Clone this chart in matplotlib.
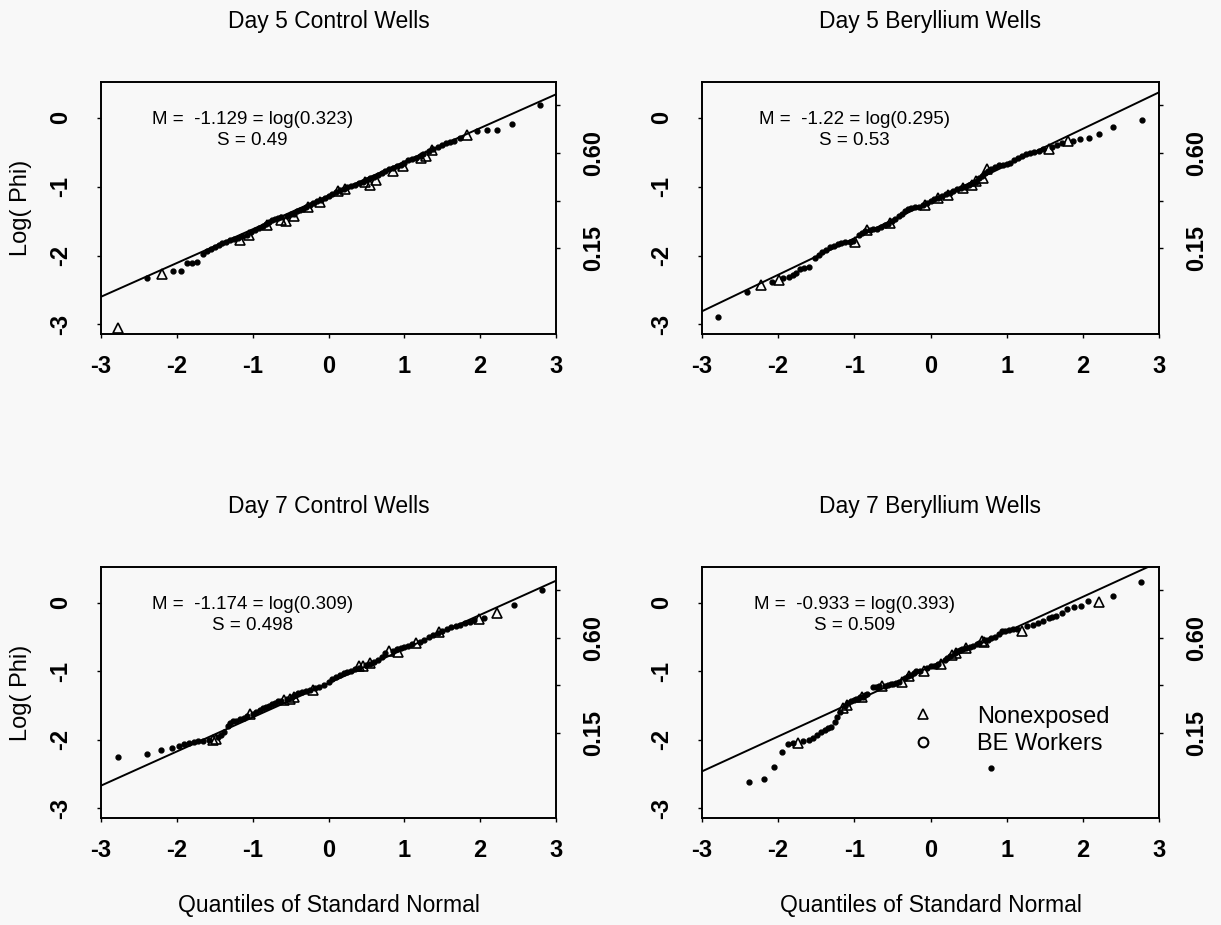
import math
import matplotlib
matplotlib.use("Agg")
import matplotlib.pyplot as plt
from matplotlib.lines import Line2D

plt.rcParams['font.family'] = ['Liberation Sans', 'DejaVu Sans']
plt.rcParams['axes.unicode_minus'] = False

# panel titles and fitted lognormal parameters (intercept M, slope S)
titles = ["Day 5 Control Wells", "Day 5 Beryllium Wells",
          "Day 7 Control Wells", "Day 7 Beryllium Wells"]
fit_m = [-1.129, -1.22, -1.174, -0.933]
fit_s = [0.49, 0.53, 0.498, 0.509]
fit_phi = [0.323, 0.295, 0.309, 0.393]

# right hand axis: Phi values at log positions
phi_ticks = [1.2, 0.6, 0.3, 0.15]
phi_labels = ["", "0.60", "", "0.15"]
x_ticks = [-3, -2, -1, 0, 1, 2, 3]
y_ticks = [0, -1, -2, -3]

# Day 5 control wells
d5c_dot_x = [-2.40, -2.05, -1.95, -1.87, -1.80, -1.73, -1.66, -1.60, -1.55, -1.50, -1.45, -1.40,
             -1.35, -1.30, -1.25, -1.20, -1.14, -1.08, -1.02, -0.97, -0.92, -0.87, -0.83, -0.78,
             -0.74, -0.70, -0.66, -0.62, -0.55, -0.50, -0.46, -0.42, -0.38, -0.34, -0.30, -0.25,
             -0.20, -0.15, -0.10, -0.05, 0.00, 0.05, 0.10, 0.15, 0.20, 0.25, 0.30, 0.35, 0.40,
             0.45, 0.50, 0.55, 0.60, 0.65, 0.70, 0.75, 0.80, 0.85, 0.90, 0.95, 1.00, 1.05, 1.10,
             1.15, 1.20, 1.25, 1.32, 1.38, 1.44, 1.50, 1.55, 1.60, 1.66, 1.73, 1.96, 2.09, 2.22,
             2.42, 2.79]
d5c_dot_y = [-2.33, -2.23, -2.22, -2.11, -2.11, -2.10, -1.98, -1.94, -1.90, -1.87, -1.85, -1.82,
             -1.80, -1.78, -1.76, -1.74, -1.72, -1.70, -1.66, -1.63, -1.60, -1.57, -1.54, -1.51,
             -1.49, -1.47, -1.45, -1.44, -1.42, -1.40, -1.39, -1.36, -1.34, -1.32, -1.30, -1.27,
             -1.24, -1.21, -1.19, -1.16, -1.13, -1.10, -1.08, -1.05, -1.03, -1.01, -0.99, -0.97,
             -0.94, -0.93, -0.91, -0.88, -0.86, -0.83, -0.80, -0.77, -0.75, -0.73, -0.70, -0.68,
             -0.65, -0.62, -0.60, -0.58, -0.55, -0.52, -0.48, -0.45, -0.42, -0.39, -0.37, -0.35,
             -0.33, -0.30, -0.19, -0.17, -0.17, -0.09, 0.19]
d5c_tri_x = [-2.77, -2.20, -1.17, -1.05, -0.81, -0.62, -0.56, -0.45, -0.27, -0.11, 0.13, 0.22,
             0.48, 0.55, 0.62, 0.85, 0.98, 1.22, 1.29, 1.36, 1.82]
d5c_tri_y = [-3.06, -2.27, -1.78, -1.70, -1.56, -1.48, -1.50, -1.42, -1.30, -1.22, -1.07, -1.04,
             -0.93, -0.97, -0.90, -0.77, -0.70, -0.58, -0.55, -0.47, -0.25]

# Day 5 beryllium wells
d5b_dot_x = [-2.79, -2.41, -2.08, -1.93, -1.86, -1.81, -1.76, -1.71, -1.66, -1.60, -1.52, -1.47,
             -1.42, -1.37, -1.32, -1.27, -1.22, -1.17, -1.12, -1.06, -1.02, -0.94, -0.90, -0.86,
             -0.80, -0.75, -0.70, -0.65, -0.60, -0.56, -0.50, -0.46, -0.42, -0.38, -0.34, -0.30,
             -0.25, -0.20, -0.15, -0.10, -0.05, 0.00, 0.05, 0.10, 0.15, 0.20, 0.25, 0.30, 0.35,
             0.40, 0.45, 0.50, 0.55, 0.60, 0.64, 0.68, 0.72, 0.76, 0.80, 0.85, 0.90, 0.95, 1.00,
             1.05, 1.10, 1.15, 1.20, 1.25, 1.30, 1.36, 1.42, 1.48, 1.60, 1.66, 1.72, 1.87, 1.96,
             2.08, 2.21, 2.40, 2.78]
d5b_dot_y = [-2.90, -2.53, -2.38, -2.33, -2.31, -2.28, -2.25, -2.20, -2.18, -2.16, -2.03, -1.99,
             -1.95, -1.92, -1.88, -1.86, -1.84, -1.82, -1.81, -1.80, -1.79, -1.70, -1.67, -1.65,
             -1.63, -1.62, -1.61, -1.58, -1.56, -1.54, -1.50, -1.47, -1.43, -1.39, -1.36, -1.33,
             -1.31, -1.30, -1.29, -1.27, -1.24, -1.21, -1.18, -1.16, -1.13, -1.10, -1.09, -1.07,
             -1.04, -1.02, -1.00, -0.98, -0.95, -0.93, -0.88, -0.84, -0.80, -0.77, -0.75, -0.72,
             -0.69, -0.68, -0.67, -0.65, -0.62, -0.59, -0.56, -0.53, -0.51, -0.50, -0.48, -0.46,
             -0.42, -0.39, -0.37, -0.33, -0.31, -0.29, -0.24, -0.13, -0.03]
d5b_tri_x = [-2.22, -1.99, -0.99, -0.83, -0.53, -0.07, 0.10, 0.23, 0.43, 0.55, 0.60, 0.69, 0.74,
             1.55, 1.80]
d5b_tri_y = [-2.43, -2.35, -1.80, -1.63, -1.53, -1.26, -1.17, -1.12, -1.02, -0.98, -0.92, -0.88,
             -0.75, -0.45, -0.34]

# Day 7 control wells
d7c_dot_x = [-2.78, -2.39, -2.21, -2.07, -1.97, -1.90, -1.84, -1.78, -1.72, -1.65, -1.58, -1.46,
             -1.42, -1.38, -1.33, -1.30, -1.26, -1.22, -1.17, -1.12, -1.08, -1.00, -0.95, -0.90,
             -0.86, -0.82, -0.78, -0.74, -0.70, -0.66, -0.62, -0.55, -0.48, -0.44, -0.40, -0.35,
             -0.30, -0.25, -0.18, -0.12, -0.06, 0.00, 0.05, 0.10, 0.15, 0.20, 0.25, 0.30, 0.35,
             0.40, 0.50, 0.55, 0.60, 0.65, 0.70, 0.75, 0.85, 0.90, 0.95, 1.00, 1.05, 1.10, 1.20,
             1.26, 1.32, 1.38, 1.44, 1.50, 1.56, 1.62, 1.68, 1.74, 1.80, 1.86, 1.92, 2.05, 2.44,
             2.82]
d7c_dot_y = [-2.25, -2.20, -2.15, -2.12, -2.09, -2.06, -2.04, -2.03, -2.02, -2.01, -2.00, -1.96,
             -1.93, -1.89, -1.80, -1.76, -1.73, -1.72, -1.70, -1.68, -1.65, -1.62, -1.59, -1.56,
             -1.54, -1.52, -1.50, -1.48, -1.46, -1.44, -1.43, -1.41, -1.38, -1.35, -1.32, -1.30,
             -1.29, -1.28, -1.25, -1.23, -1.20, -1.15, -1.11, -1.08, -1.06, -1.03, -1.01, -0.99,
             -0.97, -0.95, -0.91, -0.89, -0.87, -0.84, -0.79, -0.74, -0.70, -0.68, -0.66, -0.64,
             -0.63, -0.61, -0.57, -0.54, -0.50, -0.47, -0.44, -0.41, -0.39, -0.36, -0.34, -0.32,
             -0.30, -0.28, -0.26, -0.22, -0.03, 0.19]
d7c_tri_x = [-1.52, -1.48, -1.04, -0.59, -0.51, -0.45, -0.21, 0.40, 0.45, 0.55, 0.80, 0.92, 1.16,
             1.46, 1.99, 2.22]
d7c_tri_y = [-2.00, -1.99, -1.62, -1.42, -1.40, -1.37, -1.27, -0.93, -0.93, -0.88, -0.71, -0.72,
             -0.59, -0.43, -0.24, -0.15]

# Day 7 beryllium wells
d7b_dot_x = [-2.38, -2.19, -2.06, -1.95, -1.87, -1.81, -1.67, -1.60, -1.54, -1.49, -1.44, -1.39,
             -1.34, -1.30, -1.26, -1.23, -1.19, -1.12, -1.08, -1.04, -1.01, -0.98, -0.95, -0.92,
             -0.89, -0.86, -0.84, -0.76, -0.71, -0.67, -0.60, -0.56, -0.52, -0.49, -0.45, -0.42,
             -0.33, -0.29, -0.26, -0.22, -0.19, -0.14, -0.04, 0.00, 0.04, 0.07, 0.10, 0.19, 0.22,
             0.26, 0.32, 0.35, 0.39, 0.42, 0.47, 0.52, 0.56, 0.61, 0.64, 0.72, 0.75, 0.80, 0.85,
             0.90, 0.94, 0.98, 1.03, 1.08, 1.14, 1.27, 1.34, 1.41, 1.48, 1.55, 1.60, 1.65, 1.72,
             1.79, 1.88, 1.97, 2.07, 2.40, 2.77, 0.80]
d7b_dot_y = [-2.62, -2.57, -2.40, -2.18, -2.06, -2.05, -2.02, -2.00, -1.97, -1.93, -1.89, -1.85,
             -1.83, -1.81, -1.74, -1.66, -1.60, -1.50, -1.46, -1.44, -1.42, -1.41, -1.40, -1.38,
             -1.37, -1.35, -1.33, -1.23, -1.23, -1.22, -1.21, -1.20, -1.19, -1.18, -1.17, -1.16,
             -1.10, -1.07, -1.05, -1.02, -1.00, -0.99, -0.96, -0.93, -0.92, -0.92, -0.90, -0.83,
             -0.81, -0.78, -0.73, -0.71, -0.69, -0.67, -0.66, -0.64, -0.63, -0.61, -0.59, -0.55,
             -0.54, -0.52, -0.50, -0.45, -0.41, -0.41, -0.40, -0.39, -0.38, -0.34, -0.33, -0.29,
             -0.27, -0.22, -0.21, -0.19, -0.15, -0.09, -0.07, -0.05, 0.02, 0.10, 0.30, -2.41]
d7b_tri_x = [-1.74, -1.15, -1.10, -0.90, -0.64, -0.38, -0.28, -0.09, 0.14, 0.28, 0.33, 0.46, 0.68,
             0.70, 1.20, 2.21]
d7b_tri_y = [-2.05, -1.54, -1.49, -1.37, -1.21, -1.15, -1.07, -1.00, -0.90, -0.76, -0.74, -0.66,
             -0.56, -0.58, -0.41, 0.01]

dots_x = [d5c_dot_x, d5b_dot_x, d7c_dot_x, d7b_dot_x]
dots_y = [d5c_dot_y, d5b_dot_y, d7c_dot_y, d7b_dot_y]
tris_x = [d5c_tri_x, d5b_tri_x, d7c_tri_x, d7b_tri_x]
tris_y = [d5c_tri_y, d5b_tri_y, d7c_tri_y, d7b_tri_y]

W, H = 1221, 925
bg = '#f8f8f8'

# panel boxes in pixels: left, top, right, bottom
boxes = [(101, 82, 556, 334), (702, 82, 1159, 334),
         (101, 567, 556, 818), (702, 567, 1159, 818)]


def fig_xy(x, y):
    return x / W, 1 - y / H


fig = plt.figure(figsize=(W / 100, H / 100), dpi=100, facecolor=bg)

for i in range(4):
    l, t, r, b = boxes[i]
    ax = fig.add_axes([l / W, 1 - b / H, (r - l) / W, (b - t) / H])
    ax.set_facecolor(bg)
    m = fit_m[i]
    s = fit_s[i]

    # fitted line  log(Phi) = M + S * z
    ends = [-3, 3]
    ax.plot(ends, [m + s * z for z in ends], color='k', lw=1.4, zorder=2)
    ax.plot(dots_x[i], dots_y[i], ls='', marker='o', ms=3.5, color='k', zorder=3)
    ax.plot(tris_x[i], tris_y[i], ls='', marker='^', ms=7, mfc='none', mec='k',
            mew=1.2, zorder=3)

    ax.set_xlim(-3, 3)
    ax.set_ylim(-3.14, 0.52)
    ax.set_xticks(x_ticks)
    ax.set_xticklabels([str(v) for v in x_ticks], fontweight='bold')
    ax.set_yticks(y_ticks)
    ax.set_yticklabels([str(v) for v in y_ticks], rotation=90, ha='center', va='center',
                       fontweight='bold')
    ax.tick_params(axis='x', length=3, width=1, labelsize=17, pad=12)
    ax.tick_params(axis='y', length=3, width=1, labelsize=17, pad=26)
    for sp in ax.spines.values():
        sp.set_linewidth(1.4)

    rax = ax.twinx()
    rax.set_ylim(ax.get_ylim())
    rax.set_yticks([math.log(p) for p in phi_ticks])
    rax.set_yticklabels(phi_labels, rotation=90, ha='center', va='center', fontweight='bold')
    rax.tick_params(axis='y', length=3, width=1, labelsize=17, pad=24)
    for sp in rax.spines.values():
        sp.set_visible(False)

    ax.text(-1.0, -0.03, "M =  " + str(m) + " = log(" + format(fit_phi[i], '.3f') + ")",
            ha='center', va='center', fontsize=13.5)
    ax.text(-1.0, -0.33, "S = " + str(s), ha='center', va='center', fontsize=13.5)

    cx = (l + r) / 2
    fig.text(*fig_xy(cx, t - 54), titles[i], ha='center', va='baseline', fontsize=16.5)
    if i >= 2:
        fig.text(*fig_xy(cx, 912), "Quantiles of Standard Normal", ha='center',
                 va='baseline', fontsize=16.5)
    if i % 2 == 0:
        fig.text(*fig_xy(21, (t + b) / 2), "Log( Phi)", rotation=90, ha='center',
                 va='center', fontsize=17)

    if i == 3:
        handles = [Line2D([], [], ls='', marker='^', ms=7, mfc='none', mec='k', mew=1.2),
                   Line2D([], [], ls='', marker='o', ms=7, mfc='none', mec='k', mew=1.5)]
        ax.legend(handles, ["Nonexposed", "BE Workers"], loc='upper left',
                  bbox_to_anchor=(-0.26, -1.50), bbox_transform=ax.transData,
                  frameon=False, fontsize=17, handlelength=1.0, handletextpad=1.8,
                  labelspacing=0.25, borderpad=0, borderaxespad=0)

fig.savefig('out.png', dpi=100, facecolor=bg)
